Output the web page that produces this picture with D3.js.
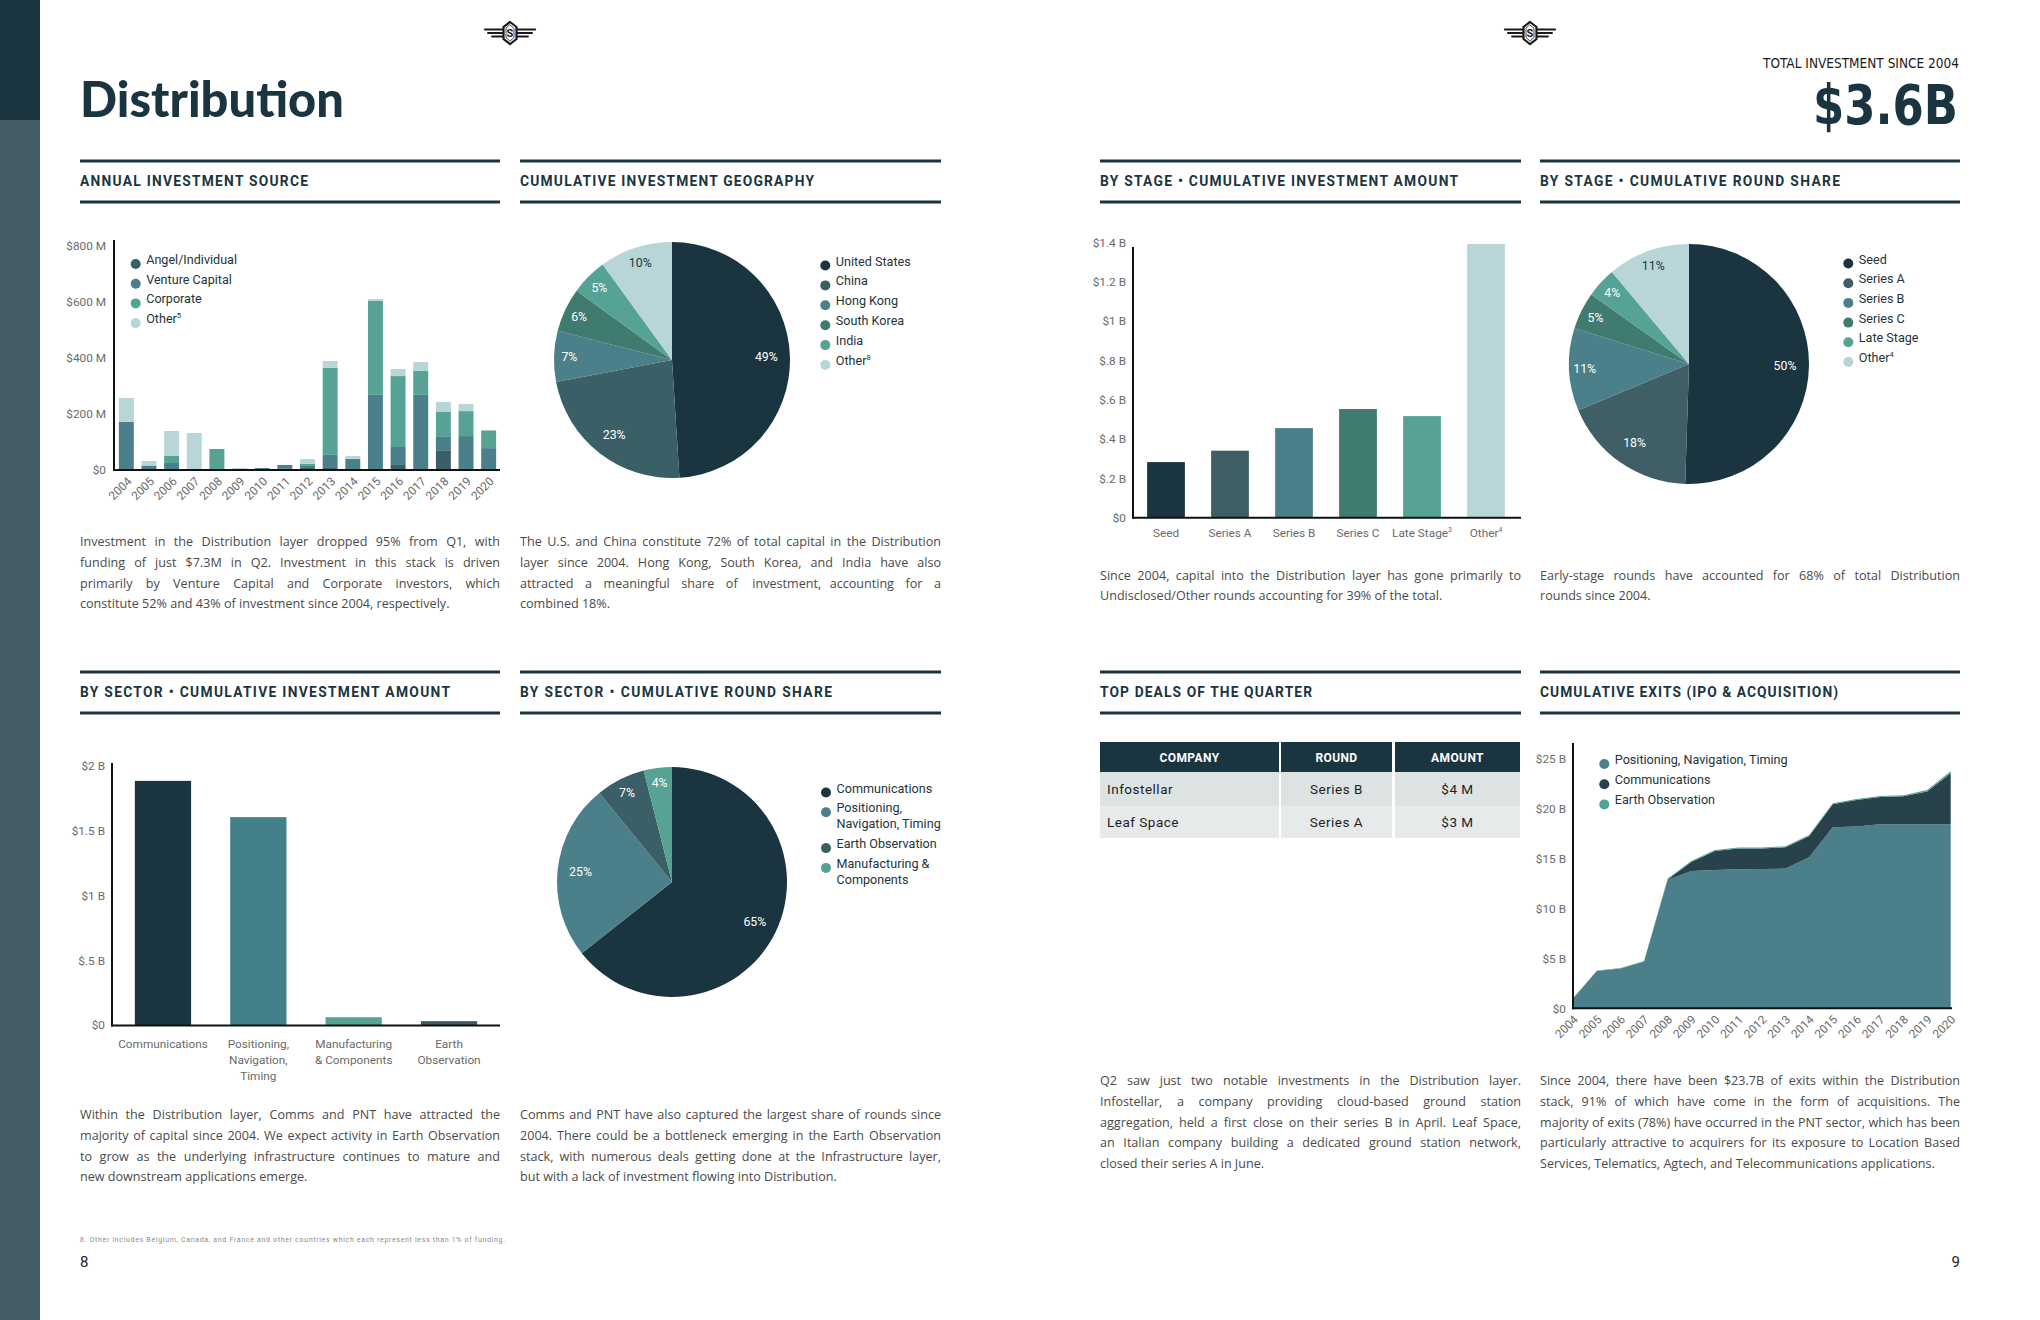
<!DOCTYPE html>
<html><head><meta charset="utf-8">
<script src="https://cdn.jsdelivr.net/npm/d3@7"></script>
<style>
html,body{margin:0;padding:0;background:#fff;}
svg{display:block;}
</style></head>
<body>
<svg id="page" width="2040" height="1320"></svg>
<script>
// ---------------- DATA ----------------
const years = ["2004","2005","2006","2007","2008","2009","2010","2011","2012","2013","2014","2015","2016","2017","2018","2019","2020"];

// Annual investment source ($M)
const sourceNames = ["Angel/Individual","Venture Capital","Corporate","Other"];
const sourceNotes = ["","","","5"];
const angel     = [0, 2, 0, 0, 0, 0, 0, 6, 7, 7, 3, 2, 18, 2, 68, 2, 2];
const venture   = [172, 14, 25, 0, 0, 0, 7, 12, 10, 47, 37, 266, 64, 266, 50, 119, 76];
const corporate = [0, 0, 25, 0, 75, 5, 0, 0, 5, 311, 0, 336, 253, 85, 89, 89, 63];
const otherSrc  = [85, 16, 89, 132, 0, 0, 0, 0, 17, 24, 10, 6, 25, 32, 36, 25, 0];
const sourceTicks = [0, 200, 400, 600, 800];

// Geography (% of cumulative investment)
const geoNames = ["United States","China","Hong Kong","South Korea","India","Other"];
const geoNotes = ["","","","","","8"];
const geoShare = [49, 23, 7, 6, 5, 10];

// By stage
const stages = ["Seed","Series A","Series B","Series C","Late Stage","Other"];
const stageNotes = ["","","","","3","4"];
const stageAmount = [0.283, 0.341, 0.456, 0.553, 0.517, 1.393]; // $B
const stageTicks = [0, 0.2, 0.4, 0.6, 0.8, 1.0, 1.2, 1.4];
const stageShare = [50, 18, 11, 5, 4, 11];
const stagePieNotes = ["","","","","","4"];

// By sector
const sectors = ["Communications","Positioning, Navigation, Timing","Manufacturing & Components","Earth Observation"];
const sectorLabelLines = [["Communications"],["Positioning,","Navigation,","Timing"],["Manufacturing","& Components"],["Earth","Observation"]];
const sectorAmount = [1.885, 1.605, 0.06, 0.03]; // $B
const sectorTicks = [0, 0.5, 1, 1.5, 2];
const sectorPieNames = ["Communications","Positioning, Navigation, Timing","Earth Observation","Manufacturing & Components"];
const sectorPieLines = [["Communications"],["Positioning,","Navigation, Timing"],["Earth Observation"],["Manufacturing &","Components"]];
const sectorShare = [65, 25, 7, 4];

// Top deals
const dealCompany = ["Infostellar","Leaf Space"];
const dealRound = ["Series B","Series A"];
const dealAmount = ["$4 M","$3 M"];
const dealHeaders = ["COMPANY","ROUND","AMOUNT"];

// Cumulative exits ($B)
const exitNames = ["Positioning, Navigation, Timing","Communications","Earth Observation"];
const exitPNT   = [1.0, 3.73, 3.97, 4.67, 12.83, 13.73, 13.83, 13.9, 13.93, 13.97, 15.1, 18.1, 18.17, 18.4, 18.4, 18.4, 18.4];
const exitComms = [0, 0, 0, 0, 0.05, 0.9, 1.9, 2.07, 2.04, 2.13, 2.13, 2.3, 2.67, 2.73, 2.8, 3.27, 5.1];
const exitEO    = [0.05, 0.05, 0.05, 0.05, 0.1, 0.1, 0.1, 0.1, 0.1, 0.1, 0.1, 0.1, 0.1, 0.1, 0.1, 0.15, 0.2];
const exitTicks = [0, 5, 10, 15, 20, 25];

// ---------------- STYLE ----------------
const dark = "#1a3540";
const FONT = "Roboto, 'Noto Sans', sans-serif";
const PFONT = "'Open Sans', 'Noto Sans', sans-serif";
const AXIS_COLOR = "#6a6a6a";
const sourceColors = ["#3a5f66","#4b7f89","#56a294","#b8d5d7"];
const stageColors = ["#1a3540","#405e66","#4b7f89","#3f7b6e","#56a294","#b8d5d7"];
const geoColors = ["#1a3540","#3a5f66","#4b7f89","#3f7b6e","#56a294","#b8d5d7"];
const sectorBarColors = ["#1a3540","#43818a","#56a294","#3a5f66"];
const sectorPieColors = ["#1a3540","#4b7f89","#3a5f66","#56a294"];
const exitColors = ["#4b7f89","#27424a","#56a294"];

const svg = d3.select("#page");

function draw() {
svg.append("rect").attr("width",2040).attr("height",1320).attr("fill","#fff");
// sidebar
svg.append("rect").attr("x",0).attr("y",0).attr("width",40).attr("height",1320).attr("fill","#455d67");
svg.append("rect").attr("x",0).attr("y",0).attr("width",40).attr("height",120).attr("fill","#1a3540");

// logos
function logo(cx, cy) {
  const g = svg.append("g").attr("transform",`translate(${cx},${cy})`).attr("stroke","#1a1a1a").attr("stroke-linecap","round");
  [[-3.5,18,2.2],[0,15,2],[3.5,11,1.8]].forEach(([dy,len,w]) => {
    g.append("line").attr("x1",-7).attr("x2",-7-len).attr("y1",dy).attr("y2",dy).attr("stroke-width",w);
    g.append("line").attr("x1",7).attr("x2",7+len).attr("y1",dy).attr("y2",dy).attr("stroke-width",w);
  });
  g.append("path").attr("d","M0,-11 L6.5,-6 L6.5,6 L0,11 L-6.5,6 L-6.5,-6 Z").attr("fill","#fff").attr("stroke-width",2.2);
  g.append("path").attr("d","M0,-8 L4,-4.5 L4,4.5 L0,8 L-4,4.5 L-4,-4.5 Z").attr("fill","none").attr("stroke-width",0.8);
  g.append("text").attr("x",0).attr("y",4).attr("text-anchor","middle").attr("font-family",FONT).attr("font-weight",700)
   .attr("font-size",11).attr("fill","#1a1a1a").attr("stroke","none").text("S");
}
logo(510, 33);
logo(1530, 33);

// title
svg.append("text").attr("x",80).attr("y",117).attr("font-family","Lato, 'Open Sans', sans-serif").attr("font-weight",900)
  .attr("font-size",49).attr("fill",dark).attr("textLength",264).attr("lengthAdjust","spacingAndGlyphs").text("Distribution");

svg.append("text").attr("x",1959).attr("y",68).attr("text-anchor","end")
  .attr("font-family","'DejaVu Sans Condensed', 'Liberation Sans Narrow', Roboto, sans-serif").attr("font-size",13.5)
  .attr("fill","#1a1a1a").attr("textLength",196).attr("lengthAdjust","spacingAndGlyphs").text("TOTAL INVESTMENT SINCE 2004");
svg.append("text").attr("x",1958).attr("y",124).attr("text-anchor","end")
  .attr("font-family","'DejaVu Sans Condensed', 'Liberation Sans Narrow', Roboto, sans-serif").attr("font-weight",700).attr("font-size",56)
  .attr("fill",dark).attr("textLength",145).attr("lengthAdjust","spacingAndGlyphs").text("$3.6B");

// section headers
function header(x, y, w, label, tl) {
  svg.append("rect").attr("x",x).attr("y",y-1.5).attr("width",w).attr("height",3).attr("fill",dark);
  svg.append("rect").attr("x",x).attr("y",y+39.5).attr("width",w).attr("height",3).attr("fill",dark);
  svg.append("text").attr("x",x).attr("y",y+25).attr("font-family",FONT).attr("font-weight",700).attr("font-size",13.8)
    .attr("fill",dark).attr("textLength",tl).attr("lengthAdjust","spacing").text(label);
}
header(80, 161, 420, "ANNUAL INVESTMENT SOURCE", 228);
header(520, 161, 421, "CUMULATIVE INVESTMENT GEOGRAPHY", 294);
header(1100, 161, 421, "BY STAGE  \u2022  CUMULATIVE INVESTMENT AMOUNT", 358);
header(1540, 161, 420, "BY STAGE  \u2022  CUMULATIVE ROUND SHARE", 300);
header(80, 672, 420, "BY SECTOR  \u2022  CUMULATIVE INVESTMENT AMOUNT", 370);
header(520, 672, 421, "BY SECTOR  \u2022  CUMULATIVE ROUND SHARE", 312);
header(1100, 672, 421, "TOP DEALS OF THE QUARTER", 212);
header(1540, 672, 420, "CUMULATIVE EXITS (IPO & ACQUISITION)", 298);

// helpers
function styleAxis(g) {
  g.select(".domain").remove();
  g.selectAll(".tick line").remove();
  g.selectAll("text").attr("font-family",FONT).attr("font-size",11.8).attr("fill",AXIS_COLOR);
}
function axisLines(x0, yTop, yBottom, xRight) {
  svg.append("line").attr("x1",x0).attr("x2",x0).attr("y1",yTop).attr("y2",yBottom+1).attr("stroke","#111").attr("stroke-width",2);
  svg.append("line").attr("x1",x0-1).attr("x2",xRight).attr("y1",yBottom).attr("y2",yBottom).attr("stroke","#111").attr("stroke-width",2);
}
function legend(x, y, step, lineH, items, colors, notes) {
  const g = svg.append("g").attr("font-family",FONT).attr("font-size",12.6).attr("fill","#24343b");
  let cy = y;
  items.forEach((lines, i) => {
    g.append("circle").attr("cx",x).attr("cy",cy).attr("r",5).attr("fill",colors[i]);
    const t = g.append("text").attr("x",x+10.5).attr("y",cy).attr("dy","0.36em");
    lines.forEach((l, j) => {
      t.append("tspan").attr("x",x+10.5).attr("dy", j ? lineH : 0).text(l);
    });
    if (notes && notes[i]) t.append("tspan").attr("font-size",7.5).attr("dy",-5).text(notes[i]);
    cy += step + lineH*(lines.length-1);
  });
}
function para(x, y, width, lines, lh) {
  const g = svg.append("g").attr("font-family",PFONT).attr("font-size",12.6).attr("fill","#4a4a4a");
  lines.forEach((line, i) => {
    const t = g.append("text").attr("y", y + i*lh);
    if (i === lines.length-1) { t.attr("x", x).text(line); return; }
    const words = line.split(" ");
    const spans = words.map(w => t.append("tspan").text(w));
    const widths = spans.map(s => s.node().getComputedTextLength());
    const gap = (width - d3.sum(widths)) / (words.length - 1);
    let cx = x;
    spans.forEach((s, j) => { s.attr("x", cx); cx += widths[j] + gap; });
  });
}
function pie(cx, cy, r, values, colors, lightIdx) {
  const g = svg.append("g").attr("transform",`translate(${cx},${cy})`);
  const arcs = d3.pie().sort(null).value(d => d)(values);
  const arc = d3.arc().innerRadius(0).outerRadius(r);
  g.selectAll("path").data(arcs).join("path").attr("d",arc).attr("fill",(d,i)=>colors[i]);
  g.selectAll("text").data(arcs).join("text")
    .attr("transform", d => {
      const lr = r * (d.data >= 15 ? 0.8 : 0.87);
      const a = (d.startAngle + d.endAngle)/2;
      return `translate(${lr*Math.sin(a)},${-lr*Math.cos(a)})`;
    })
    .attr("text-anchor","middle").attr("dy","0.35em").attr("font-family",FONT).attr("font-size",12.3)
    .attr("fill",(d,i)=> i===lightIdx ? "#1a3540" : "#ffffff").text(d => d.data + "%");
}

// ============ CHART 1: Annual investment source ============
{
  const rows = years.map((y,i)=>({year:y, a:angel[i], v:venture[i], c:corporate[i], o:otherSrc[i]}));
  const stack = d3.stack().keys(["a","v","c","o"])(rows);
  const x = d3.scaleBand().domain(years).range([115,500]).paddingInner(0.34).paddingOuter(0.17);
  const y = d3.scaleLinear().domain([0,800]).range([470,245.7]);
  svg.append("g").selectAll("g").data(stack).join("g").attr("fill",(d,i)=>sourceColors[i])
    .selectAll("rect").data(d=>d).join("rect")
    .attr("x",d=>x(d.data.year)).attr("width",x.bandwidth())
    .attr("y",d=>y(d[1])).attr("height",d=>y(d[0])-y(d[1]));
  svg.append("g").attr("transform","translate(114,0)")
    .call(d3.axisLeft(y).tickValues(sourceTicks).tickSize(0).tickPadding(8).tickFormat(d=> d===0?"$0":`$${d} M`))
    .call(styleAxis);
  const xa = svg.append("g").attr("transform","translate(0,470)").call(d3.axisBottom(x).tickSize(0)).call(styleAxis);
  xa.selectAll(".tick text").attr("y",0).attr("dy",0).attr("text-anchor","end").attr("transform","translate(6,12) rotate(-45)");
  axisLines(114, 240, 470, 500);
  legend(135.7, 264, 19.7, 0, sourceNames.map(n=>[n]), sourceColors, sourceNotes);
  para(80, 546, 420, [
    "Investment in the Distribution layer dropped 95% from Q1, with",
    "funding of just $7.3M in Q2. Investment in this stack is driven",
    "primarily by Venture Capital and Corporate investors, which",
    "constitute 52% and 43% of investment since 2004, respectively."], 20.8);
}

// ============ CHART 2: Geography pie ============
pie(672, 360, 118, geoShare, geoColors, 5);
legend(825.3, 265.5, 19.9, 0, geoNames.map(n=>[n]), geoColors, geoNotes);
para(520, 546, 421, [
  "The U.S. and China constitute 72% of total capital in the Distribution",
  "layer since 2004. Hong Kong, South Korea, and India have also",
  "attracted a meaningful share of investment, accounting for a",
  "combined 18%."], 20.8);

// ============ CHART 3: By stage amount ============
{
  const x = d3.scaleBand().domain(stages).range([1134,1518]).paddingInner(0.41).paddingOuter(0.205);
  const y = d3.scaleLinear().domain([0,1.4]).range([517.7,242.6]);
  svg.append("g").selectAll("rect").data(stages).join("rect")
    .attr("x",d=>x(d)).attr("width",x.bandwidth())
    .attr("y",(d,i)=>y(stageAmount[i])).attr("height",(d,i)=>y(0)-y(stageAmount[i]))
    .attr("fill",(d,i)=>stageColors[i]);
  svg.append("g").attr("transform","translate(1133,0)")
    .call(d3.axisLeft(y).tickValues(stageTicks).tickSize(0).tickPadding(7)
      .tickFormat(d=> d===0 ? "$0" : "$" + String(+d.toFixed(1)).replace(/^0\./,".") + " B"))
    .call(styleAxis);
  const xa = svg.append("g").attr("transform","translate(0,517.7)").call(d3.axisBottom(x).tickSize(0).tickPadding(11)).call(styleAxis);
  xa.selectAll(".tick text").each(function(d,i){
    if (stageNotes[i]) d3.select(this).append("tspan").attr("font-size",7).attr("dy",-5).text(stageNotes[i]);
  });
  axisLines(1133, 247, 517.7, 1521);
  para(1100, 579.5, 421, [
    "Since 2004, capital into the Distribution layer has gone primarily to",
    "Undisclosed/Other rounds accounting for 39% of the total."], 20.8);
}

// ============ CHART 4: By stage round share ============
pie(1689, 364, 120, stageShare, stageColors, 5);
legend(1848.3, 263.5, 19.7, 0, stages.map(n=>[n]), stageColors, stagePieNotes);
para(1540, 579.5, 420, [
  "Early-stage rounds have accounted for 68% of total Distribution",
  "rounds since 2004."], 20.8);

// ============ CHART 5: By sector amount ============
{
  const x = d3.scaleBand().domain(sectors).range([115.3,496.7]).paddingInner(0.41).paddingOuter(0.205);
  const y = d3.scaleLinear().domain([0,2]).range([1025,766]);
  svg.append("g").selectAll("rect").data(sectors).join("rect")
    .attr("x",d=>x(d)).attr("width",x.bandwidth())
    .attr("y",(d,i)=>y(sectorAmount[i])).attr("height",(d,i)=>y(0)-y(sectorAmount[i]))
    .attr("fill",(d,i)=>sectorBarColors[i]);
  svg.append("g").attr("transform","translate(112,0)")
    .call(d3.axisLeft(y).tickValues(sectorTicks).tickSize(0).tickPadding(7)
      .tickFormat(d=> d===0 ? "$0" : "$" + String(d).replace(/^0\./,".") + " B"))
    .call(styleAxis);
  const xa = svg.append("g").attr("transform","translate(0,1025)").call(d3.axisBottom(x).tickSize(0).tickPadding(15)).call(styleAxis);
  xa.selectAll(".tick text").each(function(d,i){
    const t = d3.select(this).text(null);
    sectorLabelLines[i].forEach((l,j)=> t.append("tspan").attr("x",0).attr("dy", j ? 16 : "0.71em").text(l));
  });
  axisLines(112, 763, 1025.5, 500);
  para(80, 1119, 420, [
    "Within the Distribution layer, Comms and PNT have attracted the",
    "majority of capital since 2004. We expect activity in Earth Observation",
    "to grow as the underlying infrastructure continues to mature and",
    "new downstream applications emerge."], 20.8);
}

// ============ CHART 6: By sector round share ============
pie(672, 882, 115, sectorShare, sectorPieColors, -1);
legend(826, 792.5, 19.8, 16, sectorPieLines, sectorPieColors, null);
para(520, 1119, 421, [
  "Comms and PNT have also captured the largest share of rounds since",
  "2004. There could be a bottleneck emerging in the Earth Observation",
  "stack, with numerous deals getting done at the Infrastructure layer,",
  "but with a lack of investment flowing into Distribution."], 20.8);

// ============ TABLE: Top deals ============
{
  const colX = [1100, 1281, 1395];
  const colW = [179, 111, 125];
  const g = svg.append("g").attr("font-family",FONT);
  colX.forEach((cx,i)=>{
    g.append("rect").attr("x",cx).attr("y",742).attr("width",colW[i]).attr("height",30).attr("fill",dark);
    g.append("text").attr("x",cx+colW[i]/2).attr("y",757.5).attr("dy","0.35em").attr("text-anchor","middle")
      .attr("font-weight",700).attr("font-size",12).attr("letter-spacing",0.4).attr("fill","#fff").text(dealHeaders[i]);
  });
  const rowY = [772, 806], rowH = [34, 32], rowFill = ["#dde2e3","#e7eaeb"];
  dealCompany.forEach((c, r) => {
    colX.forEach((cx,i)=> g.append("rect").attr("x",cx).attr("y",rowY[r]).attr("width",colW[i]).attr("height",rowH[r]).attr("fill",rowFill[r]));
    const cy = rowY[r] + rowH[r]/2;
    g.append("text").attr("x",1107).attr("y",cy).attr("dy","0.35em").attr("font-size",13.5).attr("letter-spacing",0.5).attr("fill","#1e1e1e").text(c);
    g.append("text").attr("x",colX[1]+colW[1]/2).attr("y",cy).attr("dy","0.35em").attr("text-anchor","middle").attr("font-size",13.5).attr("letter-spacing",0.5).attr("fill","#1e1e1e").text(dealRound[r]);
    g.append("text").attr("x",colX[2]+colW[2]/2).attr("y",cy).attr("dy","0.35em").attr("text-anchor","middle").attr("font-size",13.5).attr("letter-spacing",0.5).attr("fill","#1e1e1e").text(dealAmount[r]);
  });
  para(1100, 1085, 421, [
    "Q2 saw just two notable investments in the Distribution layer.",
    "Infostellar, a company providing cloud-based ground station",
    "aggregation, held a first close on their series B in April. Leaf Space,",
    "an Italian company building a dedicated ground station network,",
    "closed their series A in June."], 20.8);
}

// ============ CHART 8: Cumulative exits ============
{
  const rows = years.map((y,i)=>({year:y, p:exitPNT[i], c:exitComms[i], e:exitEO[i]}));
  const stack = d3.stack().keys(["p","c","e"])(rows);
  const x = d3.scalePoint().domain(years).range([1573.3,1950.7]);
  const y = d3.scaleLinear().domain([0,25]).range([1008.3,758.3]);
  const area = d3.area().x(d=>x(d.data.year)).y0(d=>y(d[0])).y1(d=>y(d[1]));
  svg.append("g").selectAll("path").data(stack).join("path").attr("d",area).attr("fill",(d,i)=>exitColors[i]);
  svg.append("g").attr("transform","translate(1573,0)")
    .call(d3.axisLeft(y).tickValues(exitTicks).tickSize(0).tickPadding(7).tickFormat(d=> d===0?"$0":`$${d} B`))
    .call(styleAxis);
  const xa = svg.append("g").attr("transform","translate(0,1008.3)").call(d3.axisBottom(x).tickSize(0)).call(styleAxis);
  xa.selectAll(".tick text").attr("y",0).attr("dy",0).attr("text-anchor","end").attr("transform","translate(5,12) rotate(-45)");
  axisLines(1573, 743, 1008.3, 1952);
  legend(1604.3, 764, 20.2, 0, exitNames.map(n=>[n]), ["#4b7f89","#27424a","#56a294"], null);
  para(1540, 1085, 420, [
    "Since 2004, there have been $23.7B of exits within the Distribution",
    "stack, 91% of which have come in the form of acquisitions. The",
    "majority of exits (78%) have occurred in the PNT sector, which has been",
    "particularly attractive to acquirers for its exposure to Location Based",
    "Services, Telematics, Agtech, and Telecommunications applications."], 20.8);
}

// footnote and page numbers
svg.append("text").attr("x",80).attr("y",1242).attr("font-family",FONT).attr("font-size",7).attr("fill","#8a8a8a")
  .attr("textLength",425).attr("lengthAdjust","spacing")
  .text("8. Other includes Belgium, Canada, and France and other countries which each represent less than 1% of funding.");
svg.append("text").attr("x",80).attr("y",1267).attr("font-family",FONT).attr("font-size",15).attr("fill","#222").text("8");
svg.append("text").attr("x",1960).attr("y",1267).attr("text-anchor","end").attr("font-family",FONT).attr("font-size",15).attr("fill","#222").text("9");
}

if (document.fonts && document.fonts.ready) document.fonts.ready.then(draw); else draw();
</script>
</body></html>
